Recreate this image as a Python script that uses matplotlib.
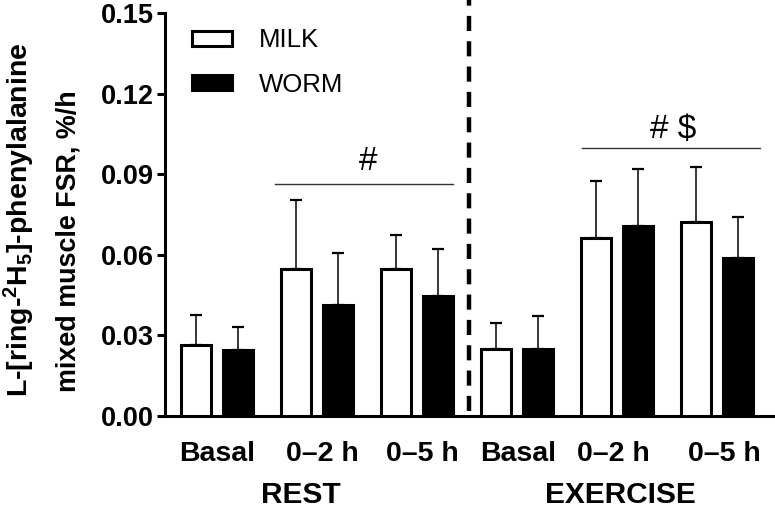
import matplotlib
matplotlib.use("Agg")
import matplotlib.pyplot as plt
import matplotlib.transforms as mtransforms
from matplotlib.patches import Patch
import numpy as np

plt.rcParams['font.family'] = ['Liberation Sans', 'DejaVu Sans']
plt.rcParams['mathtext.fontset'] = 'custom'
plt.rcParams['mathtext.rm'] = 'Liberation Sans:bold'
plt.rcParams['mathtext.bf'] = 'Liberation Sans:bold'
plt.rcParams['mathtext.default'] = 'bf'

# data (FSR, %/h)
time_labels = ['Basal', '0\u20132 h', '0\u20135 h', 'Basal', '0\u20132 h', '0\u20135 h']
condition_labels = ['REST', 'EXERCISE']
milk = [0.0265, 0.0548, 0.0548, 0.0249, 0.0662, 0.0722]
milk_err = [0.0111, 0.0257, 0.0126, 0.0099, 0.0214, 0.0206]
worm = [0.0246, 0.0414, 0.0447, 0.0248, 0.0708, 0.0589]
worm_err = [0.0084, 0.0191, 0.0173, 0.0125, 0.0210, 0.0153]
sig_labels = ['#', '# $']

fig = plt.figure(figsize=(7.75, 5.08), dpi=100)
ax = fig.add_axes([165/775, 92/508, 608/775, 403/508])

x = np.arange(len(time_labels))
w = 0.30
off = 0.21

ax.bar(x - off, milk, w, color='white', edgecolor='black', linewidth=2.2, zorder=3)
ax.bar(x + off, worm, w, color='black', edgecolor='black', linewidth=2.2, zorder=3)
ax.errorbar(x - off, milk, yerr=[np.zeros(6), milk_err], fmt='none', ecolor='black',
            elinewidth=1.1, capsize=4.5, capthick=1.6, zorder=2)
ax.errorbar(x + off, worm, yerr=[np.zeros(6), worm_err], fmt='none', ecolor='black',
            elinewidth=1.1, capsize=4.5, capthick=1.6, zorder=2)

ax.set_xlim(-0.52, 5.56)
ax.set_ylim(0, 0.15)
ax.set_yticks([0, 0.03, 0.06, 0.09, 0.12, 0.15])
ax.set_yticklabels(['0.00', '0.03', '0.06', '0.09', '0.12', '0.15'],
                   fontsize=19.5, fontweight='bold')
ax.set_xticks([0, 1.05, 2.05, 3.01, 3.96, 5.07])
ax.set_xticklabels(time_labels, fontsize=20.5, fontweight='bold')
ax.tick_params(axis='x', length=0, pad=18)
ax.tick_params(axis='y', length=6, width=2.2, pad=2)
for s in ['top', 'right']:
    ax.spines[s].set_visible(False)
ax.spines['left'].set_linewidth(2.2)
ax.spines['bottom'].set_linewidth(2.2)

# REST / EXERCISE divider
ax.plot([2.52, 2.52], [0.002, 0.1548], color='black', lw=3.2,
        linestyle=(0, (3.4, 2.3)), clip_on=False, zorder=4)

# group labels
trans = mtransforms.blended_transform_factory(ax.transData, ax.transAxes)
ax.text(0.84, -0.216, condition_labels[0], transform=trans, ha='center', va='baseline',
        fontsize=21.5, fontweight='bold')
ax.text(4.03, -0.216, condition_labels[1], transform=trans, ha='center', va='baseline',
        fontsize=21.5, fontweight='bold')

# significance bars
ax.plot([0.58, 2.36], [0.0865, 0.0865], color='#333333', lw=1.0)
ax.text(1.51, 0.0915, sig_labels[0], ha='center', va='baseline', fontsize=24)
ax.plot([3.647, 5.43], [0.0996, 0.0996], color='#333333', lw=1.0)
ax.text(4.557, 0.1035, sig_labels[1], ha='center', va='baseline', fontsize=24)

handles = [Patch(facecolor='white', edgecolor='black', linewidth=2.2, label='MILK'),
           Patch(facecolor='black', edgecolor='black', linewidth=2.2, label='WORM')]
ax.legend(handles=handles, loc='upper left', bbox_to_anchor=(0.045, 0.962),
          frameon=False, fontsize=18.5, handlelength=1.55, handleheight=0.5,
          handletextpad=1.05, labelspacing=0.8, borderpad=0, borderaxespad=0)

# two-line y label
fig.text(28/775, (508-397)/508, r'L-[ring-$^{2}$H$_{5}$]-phenylalanine',
         rotation=90, rotation_mode='anchor', ha='left', va='baseline',
         fontsize=20.5, fontweight='bold')
fig.text(76/775, (508-392)/508, 'mixed muscle FSR, %/h',
         rotation=90, rotation_mode='anchor', ha='left', va='baseline',
         fontsize=19.4, fontweight='bold')

fig.savefig('out.png', dpi=100)
